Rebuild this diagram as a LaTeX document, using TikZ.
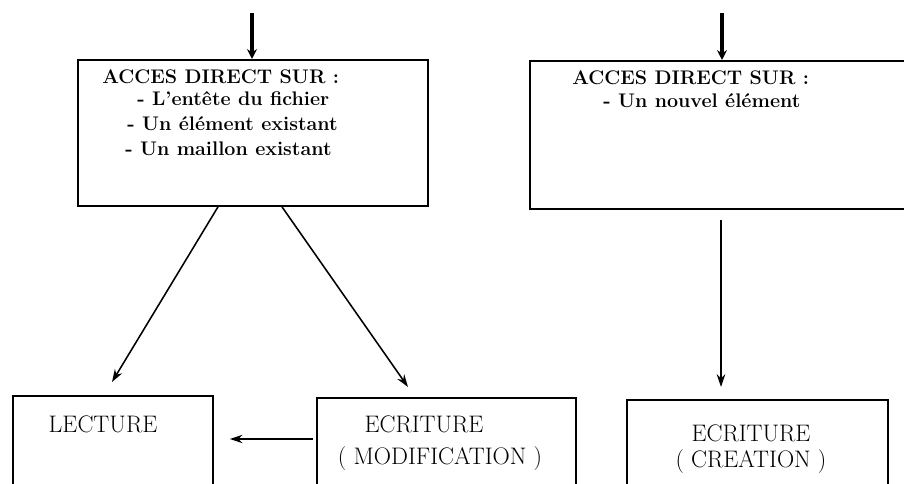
\documentclass[tikz,border=0pt]{standalone}
\usetikzlibrary{arrows.meta,positioning,calc}

\begin{document}
\begin{tikzpicture}[
    x=0.025cm, y=-0.025cm,
    boite/.style={rectangle, draw=black, line width=1.3pt, anchor=north west,
                  inner sep=0pt},
    titre/.style={anchor=base west, inner sep=0pt,
                  font=\fontsize{14}{16}\selectfont\bfseries},
    libelle/.style={anchor=base, inner sep=0pt,
                  font=\fontsize{17}{19}\selectfont},
    fleche/.style={-{Stealth[length=9pt,width=6pt]}, line width=1.1pt, black},
    grosse/.style={-{Stealth[length=7pt,width=7pt]}, line width=2.6pt, black}
]
\useasboundingbox (0,0) rectangle (904,484);
\clip (0,0) rectangle (904,484);

% boites du haut
\node[boite, minimum width=8.75cm, minimum height=3.65cm] (hautG) at (77,59) {};
\node[boite, minimum width=9.65cm, minimum height=3.7cm] (hautD) at (529,60) {};

\node[titre] (tG) at (102,84) {ACCES DIRECT SUR :};
\node[titre] (tG1) at (137,106) {- L'entête du fichier};
\node[titre] (tG2) at (127,131) {- Un élément existant};
\node[titre] (tG3) at (125,156) {- Un maillon existant};

\node[titre] (tD) at (572,85) {ACCES DIRECT SUR :};
\node[titre] (tD1) at (603,108) {- Un nouvel élément};

% boites du bas
\node[boite, minimum width=5cm, minimum height=3cm] (lecture) at (12,395) {};
\node[boite, minimum width=6.475cm, minimum height=3cm] (modif) at (316,397) {};
\node[boite, minimum width=6.525cm, minimum height=3cm] (creation) at (626,399) {};

\node[libelle] (lLec) at (103,433) {LECTURE};
\node[libelle] (lMod) at (424,433) {ECRITURE};
\node[libelle] (lMod2) at (440,465) {( MODIFICATION )};
\node[libelle] (lCre) at (751,442) {ECRITURE};
\node[libelle] (lCre2) at (751,468) {( CREATION )};

% fleches
\coordinate (entreeG) at (252,13);
\coordinate (entreeD) at (722,13);
\draw[grosse] (entreeG) -- (entreeG |- hautG.north);
\draw[grosse] (entreeD) -- (entreeD |- hautD.north);

\draw[fleche] ($(hautG.south west)+(141,0)$) -- ($(lecture.north west)+(100,-13)$);
\draw[fleche] ($(hautG.south west)+(205,0)$) -- ($(modif.north west)+(92,-10)$);
\draw[fleche] ($(hautD.south west)+(192,10)$) -- ($(creation.north west)+(95,-12)$);
\draw[fleche] ($(modif.north west)+(-3,42)$) -- ($(lecture.north east)+(16,44)$);

\end{tikzpicture}
\end{document}
